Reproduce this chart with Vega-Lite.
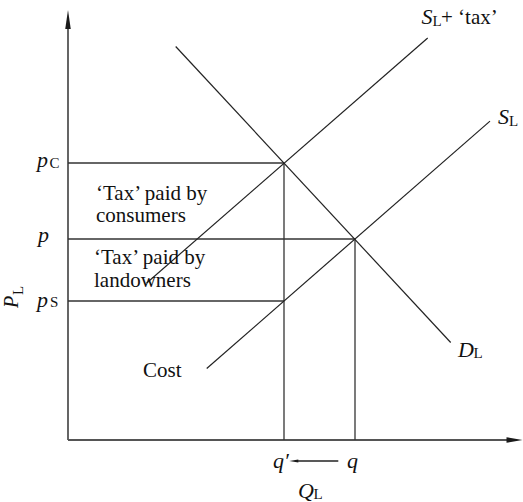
{
  "$schema": "https://vega.github.io/schema/vega-lite/v6.json",
  "width": 455,
  "height": 440,
  "autosize": {"type": "none"},
  "padding": {"left": 68, "top": 0, "right": 0, "bottom": 62},
  "background": "white",
  "config": {"view": {"stroke": null}},
  "datasets": {
    "curves": [
      {"x": 107.7, "y": 393.5, "x2": 382.7, "y2": 97.5},
      {"x": 78.7, "y": 157, "x2": 359.7, "y2": 402},
      {"x": 138.7, "y": 71.5, "x2": 422, "y2": 318.9}
    ],
    "guides": [
      {"x": 0, "y": 277, "x2": 216, "y2": 277},
      {"x": 0, "y": 201, "x2": 287, "y2": 201},
      {"x": 0, "y": 139, "x2": 216, "y2": 139},
      {"x": 216, "y": 0, "x2": 216, "y2": 277},
      {"x": 287, "y": 0, "x2": 287, "y2": 201}
    ],
    "axes": [
      {"x": 0, "y": 0, "x2": 0, "y2": 422},
      {"x": 0, "y": 0, "x2": 447, "y2": 0}
    ],
    "shaft": [{"x": 270.3, "y": -21, "x2": 227, "y2": -21}],
    "notes": [
      {"x": 28, "y": 240.5, "text": "‘Tax’ paid by"},
      {"x": 28, "y": 218, "text": "consumers"},
      {"x": 26, "y": 176, "text": "‘Tax’ paid by"},
      {"x": 26, "y": 153, "text": "landowners"},
      {"x": 75, "y": 63.3, "text": "Cost"},
      {"x": 373, "y": 416, "text": "+ ‘tax’"}
    ],
    "vars": [
      {"x": -31, "y": 273.5, "text": "p"},
      {"x": -30, "y": 198, "text": "p"},
      {"x": -31, "y": 133.5, "text": "p"},
      {"x": 353.5, "y": 416, "text": "S"},
      {"x": 430, "y": 316, "text": "S"},
      {"x": 390, "y": 83.3, "text": "D"},
      {"x": 205, "y": -28, "text": "q′"},
      {"x": 279, "y": -28, "text": "q"},
      {"x": 230, "y": -58, "text": "Q"}
    ],
    "subs": [
      {"x": -18.5, "y": 272, "text": "C"},
      {"x": -18, "y": 133, "text": "S"},
      {"x": 364.5, "y": 414, "text": "L"},
      {"x": 441, "y": 314, "text": "L"},
      {"x": 405.5, "y": 82, "text": "L"},
      {"x": 245.5, "y": -59, "text": "L"}
    ],
    "rotvar": [{"x": -50.5, "y": 132, "text": "P"}],
    "rotsub": [{"x": -45, "y": 145, "text": "L"}],
    "uparrow": [{"x": 0, "y": 420.5}],
    "rightarrow": [{"x": 446.5, "y": 0}],
    "leftarrow": [{"x": 225.8, "y": -21}]
  },
  "encoding": {
    "x": {"field": "x", "type": "quantitative", "scale": {"domain": [0, 455], "nice": false, "zero": false}, "axis": null},
    "y": {"field": "y", "type": "quantitative", "scale": {"domain": [0, 440], "nice": false, "zero": false}, "axis": null}
  },
  "layer": [
    {
      "data": {"name": "axes"},
      "mark": {"type": "rule", "color": "#555555", "strokeWidth": 1.8},
      "encoding": {"x2": {"field": "x2"}, "y2": {"field": "y2"}}
    },
    {
      "data": {"name": "guides"},
      "mark": {"type": "rule", "color": "#333333", "strokeWidth": 1.3},
      "encoding": {"x2": {"field": "x2"}, "y2": {"field": "y2"}}
    },
    {
      "data": {"name": "curves"},
      "mark": {"type": "rule", "color": "#222222", "strokeWidth": 1.2},
      "encoding": {"x2": {"field": "x2"}, "y2": {"field": "y2"}}
    },
    {
      "data": {"name": "shaft"},
      "mark": {"type": "rule", "color": "#222222", "strokeWidth": 1.5},
      "encoding": {"x2": {"field": "x2"}, "y2": {"field": "y2"}}
    },
    {
      "data": {"name": "uparrow"},
      "mark": {"type": "point", "shape": "M0,-1L0.29,1L-0.29,1Z", "size": 361, "filled": true, "color": "#1a1a1a", "opacity": 1, "strokeWidth": 0}
    },
    {
      "data": {"name": "rightarrow"},
      "mark": {"type": "point", "shape": "M1,0L-1,-0.35L-1,0.35Z", "size": 256, "filled": true, "color": "#1a1a1a", "opacity": 1, "strokeWidth": 0}
    },
    {
      "data": {"name": "leftarrow"},
      "mark": {"type": "point", "shape": "M-1,0L1,-0.35L1,0.35Z", "size": 81, "filled": true, "color": "#1a1a1a", "opacity": 1, "strokeWidth": 0}
    },
    {
      "data": {"name": "notes"},
      "mark": {"type": "text", "font": "Liberation Serif", "fontSize": 21, "align": "left", "baseline": "alphabetic", "color": "#111111"},
      "encoding": {"text": {"field": "text"}}
    },
    {
      "data": {"name": "vars"},
      "mark": {"type": "text", "font": "Liberation Serif", "fontSize": 22, "fontStyle": "italic", "align": "left", "baseline": "alphabetic", "color": "#111111"},
      "encoding": {"text": {"field": "text"}}
    },
    {
      "data": {"name": "subs"},
      "mark": {"type": "text", "font": "Liberation Serif", "fontSize": 15, "align": "left", "baseline": "alphabetic", "color": "#111111"},
      "encoding": {"text": {"field": "text"}}
    },
    {
      "data": {"name": "rotvar"},
      "mark": {"type": "text", "font": "Liberation Serif", "fontSize": 20, "fontStyle": "italic", "align": "left", "baseline": "alphabetic", "angle": 270, "color": "#111111"},
      "encoding": {"text": {"field": "text"}}
    },
    {
      "data": {"name": "rotsub"},
      "mark": {"type": "text", "font": "Liberation Serif", "fontSize": 15, "align": "left", "baseline": "alphabetic", "angle": 270, "color": "#111111"},
      "encoding": {"text": {"field": "text"}}
    }
  ]
}
